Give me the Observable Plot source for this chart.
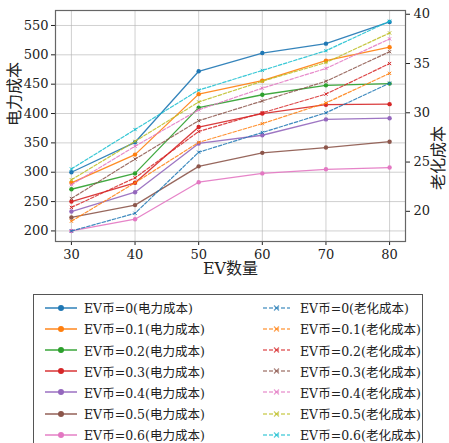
<!DOCTYPE html>
<html>
<head>
<meta charset="utf-8">
<script src="https://cdn.jsdelivr.net/npm/d3@7"></script>
<script src="https://cdn.jsdelivr.net/npm/@observablehq/plot@0.6"></script>
<style>
  html, body { margin: 0; padding: 0; background: #fff; overflow: hidden; }
  #wrap { position: relative; width: 449px; height: 443px; overflow: hidden;
    font-family: "DejaVu Serif", "Liberation Serif", "Noto Sans CJK SC", serif; }
  #legend { position: absolute; left: 33px; top: 294px; width: 390px; height: 170px;
    border: 1px solid #555; box-sizing: border-box; background: #fff; }
  .item { position: absolute; height: 20px; display: flex; align-items: center; font-size: 12.5px; color: #222; white-space: nowrap; }
  .item svg { flex: none; }
  svg text { font-family: "DejaVu Serif", "Liberation Serif", "Noto Sans CJK SC", serif; }
</style>
</head>
<body>
<div id="wrap"><div id="chart"></div><div id="legend"></div></div>
<script>
// ---- data ----
const evCoins = ["0", "0.1", "0.2", "0.3", "0.4", "0.5", "0.6"];
const evCounts = [30, 40, 50, 60, 70, 80];
const xTicks = [30, 40, 50, 60, 70, 80];
const leftTicks = [200, 250, 300, 350, 400, 450, 500, 550];
const rightTicks = [20, 25, 30, 35, 40];

// 电力成本 (left axis)
const power0  = [300, 351, 472, 503, 519, 556];
const power01 = [282, 330, 433, 456, 490, 513];
const power02 = [271, 298, 410, 432, 448, 451];
const power03 = [250, 282, 377, 400, 415, 416];
const power04 = [233, 266, 349, 363, 390, 392];
const power05 = [223, 244, 310, 333, 342, 352];
const power06 = [200, 220, 283, 298, 305, 308];

// 老化成本 (right axis)
const aging0  = [18.0, 19.8, 26.0, 28.0, 30.0, 33.0];
const aging01 = [19.0, 22.9, 27.0, 28.9, 31.0, 34.0];
const aging02 = [20.4, 23.4, 28.1, 30.0, 31.9, 35.0];
const aging03 = [21.3, 25.3, 29.2, 31.2, 33.2, 36.2];
const aging04 = [22.7, 26.6, 30.3, 32.5, 34.5, 37.5];
const aging05 = [23.2, 27.1, 31.1, 33.2, 35.1, 38.1];
const aging06 = [24.3, 28.3, 32.3, 34.3, 36.3, 39.3];

const powerSeries = [power0, power01, power02, power03, power04, power05, power06];
const agingSeries = [aging0, aging01, aging02, aging03, aging04, aging05, aging06];

const powerColors = ["#1f77b4", "#ff7f0e", "#2ca02c", "#d62728", "#9467bd", "#8c564b", "#e377c2"];
const agingColors = ["#1f77b4", "#ff7f0e", "#d62728", "#8c564b", "#e377c2", "#bcbd22", "#17becf"];

// twin axis: map right-axis values onto the left scale
const toL = r => 233.4 + (r - 20) * 16.785;
const toR = l => (l - 233.4) / 16.785 + 20;

const rows = [];
evCoins.forEach((c, i) => evCounts.forEach((x, j) => {
  rows.push({coin: c, i, x, power: powerSeries[i][j], aging: agingSeries[i][j], agingL: toL(agingSeries[i][j])});
}));

const fontFam = '"DejaVu Serif", "Liberation Serif", "Noto Sans CJK SC", serif';
const marks = [
  Plot.gridX(xTicks, {stroke: "#b0b0b0", strokeOpacity: 0.6}),
  Plot.gridY(leftTicks, {stroke: "#b0b0b0", strokeOpacity: 0.6}),
  Plot.axisX(xTicks, {tickFormat: d => d, label: null, tickSize: 4, tickPadding: 4, fontSize: 13}),
  Plot.axisY(leftTicks, {tickFormat: d => d, label: null, tickSize: 4, tickPadding: 3, fontSize: 13}),
  Plot.axisY(rightTicks.map(toL), {anchor: "right", tickFormat: d => Math.round(toR(d)), label: null, tickSize: 4, tickPadding: 4, fontSize: 13})
];
evCoins.forEach((c, i) => {
  const d = rows.filter(r => r.i === i);
  marks.push(Plot.line(d, {x: "x", y: "power", stroke: powerColors[i], strokeWidth: 1.3, strokeOpacity: 0.9}));
  marks.push(Plot.dot(d, {x: "x", y: "power", fill: powerColors[i], r: 2.2, stroke: "none"}));
});
evCoins.forEach((c, i) => {
  const d = rows.filter(r => r.i === i);
  marks.push(Plot.line(d, {x: "x", y: "agingL", stroke: agingColors[i], strokeWidth: 1.2, strokeDasharray: "3.5,1.8", strokeOpacity: 0.85}));
  marks.push(Plot.dot(d, {x: "x", y: "agingL", stroke: agingColors[i], r: 1.6, symbol: "times", strokeWidth: 1}));
});
marks.push(Plot.frame({stroke: "#666", strokeWidth: 1.2}));
marks.push(Plot.text(["EV数量"], {frameAnchor: "bottom", dy: 32, fontSize: 16, fill: "#222"}));
marks.push(Plot.text(["电力成本"], {frameAnchor: "left", dx: -41, rotate: -90, fontSize: 16, fill: "#222"}));
marks.push(Plot.text(["老化成本"], {frameAnchor: "right", dx: 33, rotate: -90, fontSize: 16, fill: "#222"}));

const chart = Plot.plot({
  width: 449, height: 291,
  marginLeft: 55, marginRight: 44, marginTop: 10, marginBottom: 50,
  x: {domain: [27.5, 82.5]},
  y: {domain: [182, 575.5]},
  style: {fontFamily: fontFam, fontSize: "13px", color: "#222", background: "white", overflow: "visible"},
  marks
});
document.getElementById("chart").appendChild(chart);

// ---- legend ----
const legend = document.getElementById("legend");
const rowY0 = 306.7 - 294, rowStep = 21.17;
evCoins.forEach((c, i) => {
  const y = rowY0 + i * rowStep - 10;
  const a = document.createElement("div");
  a.className = "item";
  a.style.left = (44 - 33) + "px"; a.style.top = y + "px";
  a.innerHTML = `<svg width="33" height="20"><line x1="0" x2="32" y1="10" y2="10" stroke="${powerColors[i]}" stroke-width="2" stroke-opacity="0.7"/><circle cx="16" cy="10" r="3" fill="${powerColors[i]}"/></svg><span style="margin-left:6px">EV币=${c}(电力成本)</span>`;
  legend.appendChild(a);
  const b = document.createElement("div");
  b.className = "item";
  b.style.left = (262 - 33) + "px"; b.style.top = y + "px";
  b.innerHTML = `<svg width="27" height="20"><line x1="0" x2="27" y1="10" y2="10" stroke="${agingColors[i]}" stroke-width="1.6" stroke-dasharray="4,2" stroke-opacity="0.7"/><path d="M11,7.5L16,12.5M16,7.5L11,12.5" stroke="${agingColors[i]}" stroke-width="1.2" stroke-opacity="0.7"/></svg><span style="margin-left:10px">EV币=${c}(老化成本)</span>`;
  legend.appendChild(b);
});
</script>
</body>
</html>
